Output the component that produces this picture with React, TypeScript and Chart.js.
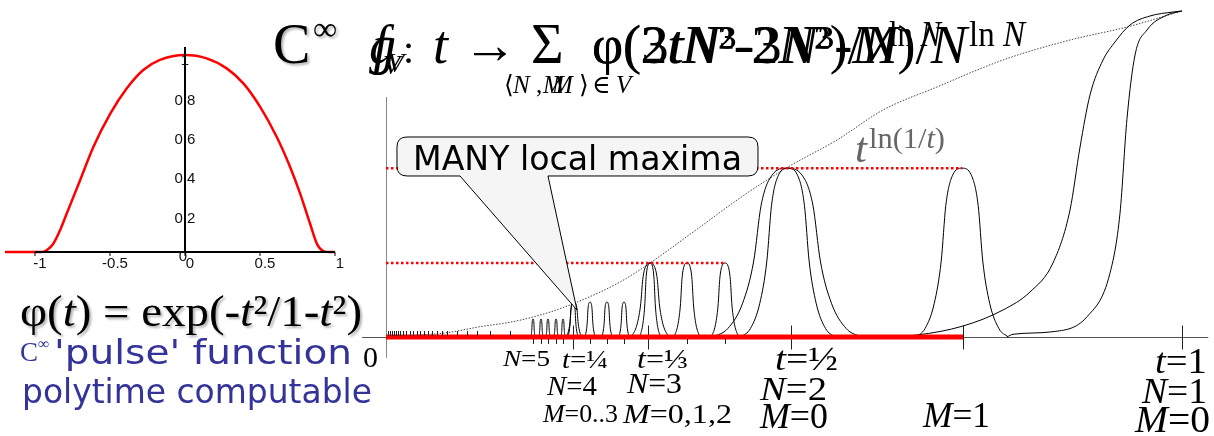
import React, { useEffect, useRef } from "react";
import { Chart, registerables } from "chart.js";

Chart.register(...registerables);

/* ---------------- left panel: the C∞ pulse φ(t) ---------------- */
const phiT = [-1.2, -1.0, -0.96, -0.922, -0.878, -0.833, -0.789, -0.7, -0.611, -0.5, -0.389, -0.278, -0.167, 0, 0.144, 0.278, 0.389, 0.5, 0.611, 0.7, 0.767, 0.833, 0.878, 0.922, 0.96, 1.0, 1.3];
const phiValue = [0, 0, 0, 0.009, 0.042, 0.11, 0.194, 0.363, 0.533, 0.7, 0.83, 0.924, 0.975, 1.0, 0.983, 0.932, 0.856, 0.738, 0.585, 0.433, 0.298, 0.146, 0.044, 0.005, 0, 0, 0];
const phiXTicks = [-1, -0.5, 0, 0.5, 1];
const phiXTickLabels = ["-1", "-0.5", "0", "0.5", "1"];
const phiYTicks = [0.2, 0.4, 0.6, 0.8, 1];
const phiYTickLabels = ["0.2", "0.4", "0.6", "0.8", "1"];

/* ---------------- right panel: the sum of pulses ---------------- */
// shape of one pulse (offset in half-widths, fraction of its height)
const pulseShapeU = [-1, -0.8, -0.6, -0.45, -0.35, -0.2, 0, 0.2, 0.35, 0.45, 0.6, 0.8, 1];
const pulseShapeV = [0, 0.05, 0.2, 0.45, 0.78, 0.96, 1, 0.96, 0.78, 0.45, 0.2, 0.05, 0];

// narrow pulses: N=2 (M=0,1), N=3 (M=0..2), N=4 (M=0..3), N=5 (M=0..4)
const narrowPulseT = [0.505, 0.7236, 0.3317, 0.3781, 0.4259, 0.2349, 0.2563, 0.2776, 0.299, 0.1847, 0.1947, 0.2035, 0.2136, 0.2224];
const narrowPulseHeight = [0.518, 0.518, 0.227, 0.227, 0.227, 0.107, 0.107, 0.107, 0.107, 0.055, 0.055, 0.055, 0.055, 0.055];
const narrowPulseHalfWidth = [0.059, 0.058, 0.0145, 0.018, 0.019, 0.0075, 0.0075, 0.0075, 0.0075, 0.0032, 0.0032, 0.0032, 0.0032, 0.0032];

// wide pulses (second function) at t = 1/2, 1/3, 1/4
const widePulseT = [0.5038, 0.3317, 0.2362];
const widePulseHeight = [0.518, 0.227, 0.107];
const widePulseHalfWidth = [0.093, 0.026, 0.011];

// the two N=1 rises towards t=1
const stepLeftT = [0.6206, 0.6671, 0.7249, 0.7751, 0.809, 0.8379, 0.8593, 0.8719, 0.8844, 0.9008, 0.9158, 0.9347, 0.9598, 0.9887, 1.0];
const stepLeftV = [0, 0.0061, 0.0337, 0.0828, 0.138, 0.227, 0.3896, 0.5828, 0.7423, 0.8497, 0.9049, 0.9571, 0.9847, 0.9969, 1.0];
const stepRightT = [0.78, 0.7877, 0.8379, 0.8807, 0.9095, 0.9221, 0.9309, 0.941, 0.956, 0.9812, 1.0];
const stepRightV = [0, 0.0083, 0.0163, 0.0623, 0.1954, 0.3794, 0.67, 0.865, 0.9417, 0.9877, 1.0];

// dotted envelope t^ln(1/t)
const envelopeT = [0, 0.0766, 0.1181, 0.1595, 0.2023, 0.2374, 0.294, 0.3317, 0.3945, 0.4447, 0.505, 0.5666, 0.6244, 0.6922, 0.7751, 0.8593, 0.9309, 1.0];
const envelopeV = [0, 0.0132, 0.0316, 0.0469, 0.0736, 0.1043, 0.1687, 0.227, 0.3374, 0.4264, 0.5215, 0.6043, 0.6963, 0.7669, 0.8497, 0.911, 0.9509, 1.0];

// red dotted levels of the maxima
const maximaLevel = [0.518, 0.227];
const maximaLevelEnd = [0.7236, 0.4259];
const redAxisEnd = 0.7249;

const axisExtentT = [-0.03, 1.033];
const axisExtentV = [-0.064, 0.736];
const majorTickT = [0.2349, 0.3291, 0.5088, 0.7249, 1.0];
const minorTickT = [0.0025, 0.005, 0.0075, 0.01, 0.0126, 0.0151, 0.0176, 0.0214, 0.0251, 0.0302, 0.0339, 0.039, 0.0427, 0.0477, 0.0528, 0.0578, 0.0641, 0.0704, 0.0766, 0.0892, 0.1018, 0.1143, 0.1307, 0.1558];
const pulseTickT = [0.1847, 0.1947, 0.2035, 0.2136, 0.2224, 0.2563, 0.2776, 0.299, 0.3781, 0.4259];

const axisLabelText = ["N=5", "t=¼", "N=4", "M=0..3", "t=⅓", "N=3", "M=0,1,2", "t=½", "N=2", "M=0", "M=1", "t=1", "N=1", "M=0"];
// [left px, baseline px, font size, width]
const axisLabelBox = [
  [503, 366, 24, 47], [562, 368, 26, 46], [547, 395, 27, 50], [543, 422, 25, 75],
  [637, 368, 28, 51], [627, 393, 29, 55], [623, 423, 28, 109],
  [775, 370, 33, 63], [760, 400, 34, 67], [760, 428, 35, 68], [923, 427, 35, 67],
  [1155, 373, 35, 52], [1142, 403, 36, 65], [1135, 432, 37, 75],
];

// callout "MANY local maxima", in chart units
const calloutBox = { left: 0.0138, right: 0.4673, top: 0.6135, bottom: 0.4939 };
const calloutPointer = { baseLeft: 0.093, baseRight: 0.2035, tipT: 0.2399, tipV: 0.0828 };

const SERIF = "'Liberation Serif', 'DejaVu Serif', 'Times New Roman', serif";
const SANS = "'DejaVu Sans', Verdana, sans-serif";
const FIT = "spacingAndGlyphs";

function pts(xs: number[], ys: number[]) {
  return xs.map((x, i) => ({ x, y: ys[i] }));
}
function pulsePoints(c: number, h: number, w: number) {
  return pulseShapeU.map((u, i) => ({ x: c + u * w, y: pulseShapeV[i] * h }));
}
function seg(ctx: any, x1: number, y1: number, x2: number, y2: number, color: string, width: number) {
  ctx.beginPath();
  ctx.strokeStyle = color;
  ctx.lineWidth = width;
  ctx.setLineDash([]);
  ctx.moveTo(x1, y1);
  ctx.lineTo(x2, y2);
  ctx.stroke();
}

const mainDecor = {
  id: "mainDecor",
  beforeDatasetsDraw(chart: any) {
    const { ctx } = chart;
    const X = (v: number) => chart.scales.x.getPixelForValue(v);
    const Y = (v: number) => chart.scales.y.getPixelForValue(v);
    ctx.save();
    const y0 = Math.round(Y(0)) + 0.5;
    const x0 = Math.round(X(0)) + 0.5;
    seg(ctx, X(axisExtentT[0]), y0, X(axisExtentT[1]), y0, "#555", 1);
    seg(ctx, x0, Y(axisExtentV[0]), x0, Y(axisExtentV[1]), "#888", 1);
    majorTickT.forEach((t) => {
      const px = Math.round(X(t)) + 0.5;
      seg(ctx, px, y0 - 12, px, y0 + 12, "#222", 1);
    });
    ctx.restore();
  },
  afterDatasetsDraw(chart: any) {
    const { ctx } = chart;
    const X = (v: number) => chart.scales.x.getPixelForValue(v);
    const Y = (v: number) => chart.scales.y.getPixelForValue(v);
    ctx.save();
    const y0 = Math.round(Y(0));
    minorTickT.forEach((t) => {
      const px = Math.round(X(t)) + 0.5;
      seg(ctx, px, y0 - 6, px, y0 - 1, "#222", 1);
    });
    pulseTickT.forEach((t) => {
      const px = Math.round(X(t)) + 0.5;
      seg(ctx, px, y0 + 2, px, y0 + 7, "#222", 1);
    });
    // callout
    const L = X(calloutBox.left), R = X(calloutBox.right);
    const T = Y(calloutBox.top), B = Y(calloutBox.bottom);
    const r = 10;
    ctx.beginPath();
    ctx.moveTo(L + r, T);
    ctx.lineTo(R - r, T);
    ctx.quadraticCurveTo(R, T, R, T + r);
    ctx.lineTo(R, B - r);
    ctx.quadraticCurveTo(R, B, R - r, B);
    ctx.lineTo(X(calloutPointer.baseRight), B);
    ctx.lineTo(X(calloutPointer.tipT), Y(calloutPointer.tipV));
    ctx.lineTo(X(calloutPointer.baseLeft), B);
    ctx.lineTo(L + r, B);
    ctx.quadraticCurveTo(L, B, L, B - r);
    ctx.lineTo(L, T + r);
    ctx.quadraticCurveTo(L, T, L + r, T);
    ctx.closePath();
    ctx.fillStyle = "#f5f5f5";
    ctx.fill();
    ctx.setLineDash([]);
    ctx.strokeStyle = "#000";
    ctx.lineWidth = 1;
    ctx.stroke();
    ctx.restore();
  },
};

const phiDecor = {
  id: "phiDecor",
  afterDatasetsDraw(chart: any) {
    const { ctx } = chart;
    const X = (v: number) => chart.scales.x.getPixelForValue(v);
    const Y = (v: number) => chart.scales.y.getPixelForValue(v);
    ctx.save();
    ctx.fillStyle = "#111";
    ctx.font = "15px 'Liberation Sans', Arial, sans-serif";
    ctx.textAlign = "center";
    ctx.textBaseline = "middle";
    phiXTicks.forEach((v, i) => ctx.fillText(phiXTickLabels[i], X(v) + 5, Y(0) + 12));
    phiYTicks.forEach((v, i) => ctx.fillText(phiYTickLabels[i], X(0), Y(v) + 6));
    ctx.fillText("0", X(0) - 2, Y(0) + 5);
    seg(ctx, X(-1), Y(0), X(1), Y(0), "#000", 2);
    seg(ctx, X(0), Y(0), X(0), Y(1.04), "#000", 2);
    phiXTicks.forEach((v) => seg(ctx, X(v), Y(0), X(v), Y(0) + 4, "#000", 1));
    ctx.restore();
  },
};

function mainConfig(): any {
  const curve = (data: any[], extra: any = {}) => ({
    data,
    showLine: true,
    pointRadius: 0,
    borderColor: "#000",
    borderWidth: 1,
    cubicInterpolationMode: "monotone",
    clip: false,
    order: 5,
    ...extra,
  });
  const datasets: any[] = [];
  datasets.push({
    data: pts([0, redAxisEnd], [0, 0]),
    showLine: true, pointRadius: 0, borderColor: "#ff0000", borderWidth: 5, clip: false, order: 1,
  });
  maximaLevel.forEach((h, i) =>
    datasets.push({
      data: pts([0, maximaLevelEnd[i]], [h, h]),
      showLine: true, pointRadius: 0, borderColor: "#ff0000", borderWidth: 2.5,
      borderDash: [2.5, 2.5], clip: false, order: 2,
    })
  );
  datasets.push(curve(pts(envelopeT, envelopeV), { borderColor: "#444", borderDash: [1.5, 1.5], order: 6 }));
  narrowPulseT.forEach((c, i) => datasets.push(curve(pulsePoints(c, narrowPulseHeight[i], narrowPulseHalfWidth[i]))));
  widePulseT.forEach((c, i) => datasets.push(curve(pulsePoints(c, widePulseHeight[i], widePulseHalfWidth[i]))));
  datasets.push(curve(pts(stepLeftT, stepLeftV)));
  datasets.push(curve(pts(stepRightT, stepRightV)));
  return {
    type: "scatter",
    data: { datasets },
    options: {
      responsive: false,
      animation: false,
      devicePixelRatio: 1,
      events: [],
      layout: { padding: { left: 386, right: 32, top: 11, bottom: 99 } },
      scales: {
        x: { type: "linear", min: 0, max: 1, display: false },
        y: { type: "linear", min: 0, max: 1, display: false },
      },
      plugins: { legend: { display: false }, tooltip: { enabled: false } },
    },
    plugins: [mainDecor],
  };
}

function phiConfig(): any {
  return {
    type: "scatter",
    data: {
      datasets: [
        {
          data: pts(phiT, phiValue),
          showLine: true, pointRadius: 0, borderColor: "#ff0000", borderWidth: 2.5,
          cubicInterpolationMode: "monotone", clip: false,
        },
      ],
    },
    options: {
      responsive: false,
      animation: false,
      devicePixelRatio: 1,
      events: [],
      layout: { padding: { left: 35, right: 55, top: 55, bottom: 48 } },
      scales: {
        x: { type: "linear", min: -1, max: 1, display: false },
        y: { type: "linear", min: 0, max: 1, display: false },
      },
      plugins: { legend: { display: false }, tooltip: { enabled: false } },
    },
    plugins: [phiDecor],
  };
}

function useChart(ref: any, make: () => any) {
  useEffect(() => {
    const chart = new Chart(ref.current, make());
    return () => chart.destroy();
  }, []);
}

const I = (s: string) => <tspan fontStyle="italic">{s}</tspan>;

export default function App() {
  const mainRef = useRef<HTMLCanvasElement>(null);
  const phiRef = useRef<HTMLCanvasElement>(null);
  useChart(mainRef, mainConfig);
  useChart(phiRef, phiConfig);

  return (
    <div style={{ position: "fixed", left: 0, top: 0, width: 1214, height: 436, background: "#fff", overflow: "hidden" }}>
      <canvas ref={mainRef} width={1214} height={436} style={{ position: "absolute", left: 0, top: 0 }} />
      <canvas ref={phiRef} width={390} height={300} style={{ position: "absolute", left: 0, top: 0 }} />
      <svg width={1214} height={436} style={{ position: "absolute", left: 0, top: 0 }}>
        <defs>
          <filter id="softShadow" x="-20%" y="-30%" width="150%" height="170%">
            <feDropShadow dx="2" dy="2" stdDeviation="1.2" floodColor="#000" floodOpacity="0.3" />
          </filter>
        </defs>

        {/* title */}
        <g fontFamily={SERIF} fill="#000">
          <text x={273} y={63} fontSize={56} filter="url(#softShadow)">C</text>
          <text x={313} y={40} fontSize={34} filter="url(#softShadow)">∞</text>
          <text x={369} y={63} fontSize={54} fontStyle="italic">g</text>
          <text x={373} y={63} fontSize={54} fontStyle="italic">f</text>
          <text x={383} y={74} fontSize={28} fontStyle="italic">V</text>
          <text x={387} y={72} fontSize={28} fontStyle="italic">V</text>
          <text x={403} y={63} fontSize={40}>:</text>
          <text x={433} y={63} fontSize={54} fontStyle="italic">t</text>
          <text x={463} y={63} fontSize={54} textLength={54} lengthAdjust={FIT}>→</text>
          <text x={531} y={63} fontSize={56}>Σ</text>
          <text x={504} y={93} fontSize={25}>⟨</text>
          <text x={513} y={93} fontSize={25} fontStyle="italic">N</text>
          <text x={536} y={93} fontSize={25}>,</text>
          <text x={543} y={93} fontSize={25} fontStyle="italic">M</text>
          <text x={552} y={93} fontSize={25} fontStyle="italic">M</text>
          <text x={579} y={93} fontSize={25}>⟩</text>
          <text x={592} y={93} fontSize={25}>∈</text>
          <text x={616} y={93} fontSize={25} fontStyle="italic">V</text>
          <text x={592} y={63} fontSize={54} textLength={375} lengthAdjust={FIT}>
            φ(3{I("tN")}³-3{I("N")}³-{I("M")})/{I("N")}
          </text>
          <text x={969} y={46} fontSize={35} textLength={56} lengthAdjust={FIT}>
            ln {I("N")}
          </text>
          <text x={592} y={63} fontSize={54} textLength={306} lengthAdjust={FIT}>
            φ(2{I("tN")}²-2{I("N")}²)/{I("N")}
          </text>
          <text x={889} y={46} fontSize={35} textLength={52} lengthAdjust={FIT}>
            ln {I("N")}
          </text>
        </g>

        {/* envelope label */}
        <g fontFamily={SERIF} fill="#666">
          <text x={855} y={162} fontSize={43} fontStyle="italic">t</text>
          <text x={869} y={148} fontSize={30} textLength={76} lengthAdjust={FIT}>
            ln(1/{I("t")})
          </text>
        </g>

        {/* callout text */}
        <text x={413} y={170} fontFamily={SANS} fontSize={33} textLength={329} lengthAdjust={FIT} fill="#000">
          MANY local maxima
        </text>

        {/* left formula */}
        <text x={20} y={326} fontFamily={SERIF} fontSize={44} textLength={342} lengthAdjust={FIT} filter="url(#softShadow)">
          φ({I("t")}) = exp(-{I("t")}²/1-{I("t")}²)
        </text>
        <g fill="#333399">
          <text x={20} y={361} fontFamily={SERIF} fontSize={27}>C</text>
          <text x={38} y={349} fontFamily={SERIF} fontSize={16}>∞</text>
          <text x={54} y={364} fontFamily={SANS} fontSize={33} textLength={298} lengthAdjust={FIT}>
            {"'pulse' function"}
          </text>
          <text x={22} y={403} fontFamily={SANS} fontSize={33} textLength={350} lengthAdjust={FIT}>
            polytime computable
          </text>
        </g>

        {/* origin label of the main chart */}
        <text x={363} y={367} fontFamily={SERIF} fontSize={30}>0</text>

        {/* axis labels */}
        <g fontFamily={SERIF} fill="#000">
          {axisLabelText.map((s, i) => {
            const [x, y, f, w] = axisLabelBox[i];
            return (
              <text key={i} x={x} y={y} fontSize={f} textLength={w} lengthAdjust={FIT}>
                {I(s.charAt(0))}
                {s.slice(1)}
              </text>
            );
          })}
        </g>
      </svg>
    </div>
  );
}
